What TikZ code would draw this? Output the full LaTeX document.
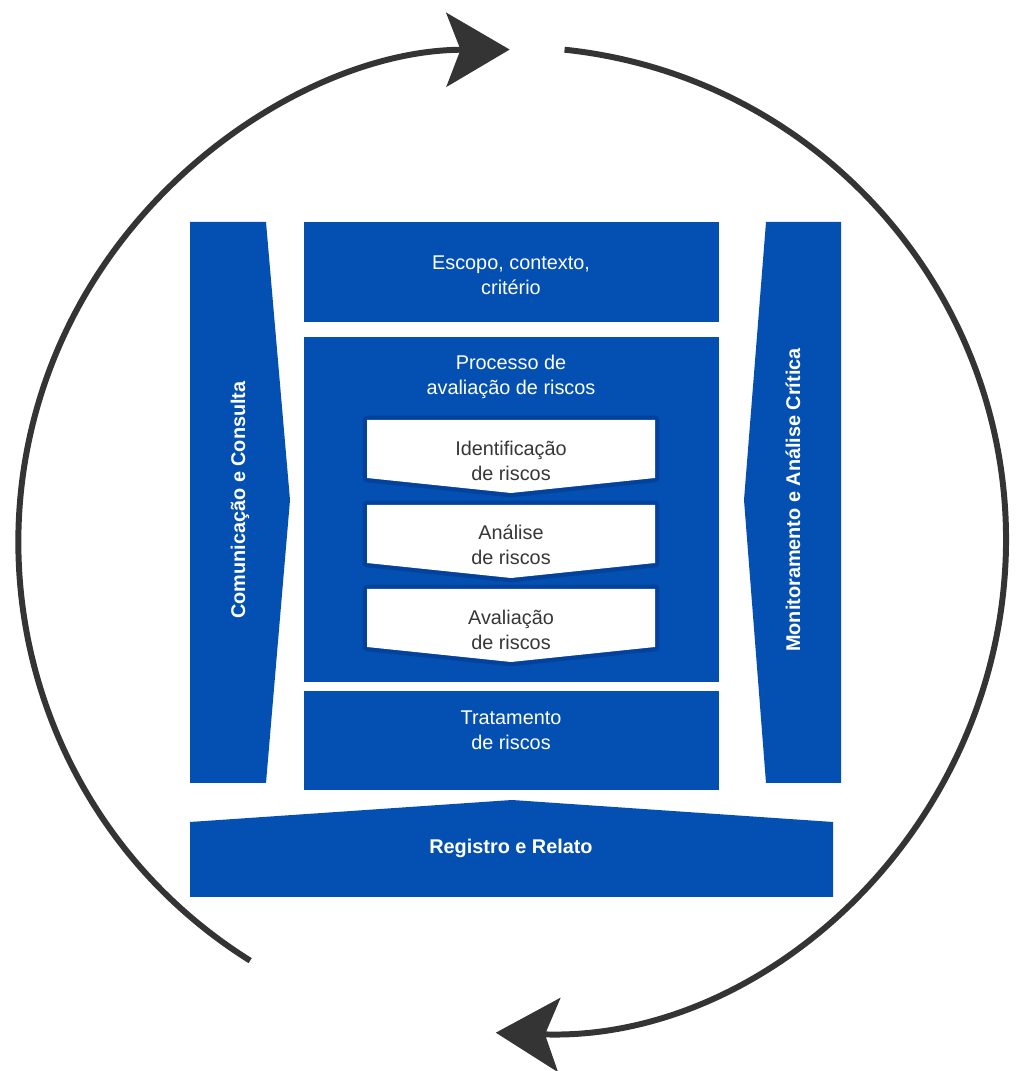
\documentclass[tikz,border=0pt]{standalone}
\usepackage{fontspec}
\setmainfont{Liberation Sans}
\usetikzlibrary{arrows.meta}
\definecolor{isoblue}{RGB}{4,80,178}
\definecolor{deepblue}{RGB}{0,40,115}
\definecolor{arcgray}{RGB}{52,52,52}
\definecolor{inktext}{RGB}{55,55,55}
\begin{document}
\begin{tikzpicture}[x=0.02cm,y=0.02cm,
  panel/.style={fill=isoblue},
  stepshape/.style={fill=white},
  stephalo/.style={draw=deepblue, line width=5pt, opacity=0.35, line join=round},
  paneltext/.style={text=white, align=center, inner sep=0pt,
    font=\fontsize{11.3pt}{14pt}\selectfont},
  sidetext/.style={text=white, inner sep=0pt, rotate=90,
    font=\bfseries\fontsize{11.3pt}{14pt}\selectfont},
  steptext/.style={text=inktext, align=center, inner sep=0pt,
    font=\fontsize{11.3pt}{14pt}\selectfont},
  cyclearc/.style={draw=arcgray, line width=3.4pt,
    -{Stealth[length=36pt,width=42pt,inset=8pt]}}]
\useasboundingbox (0,0) rectangle (1019,1071);

% centre of the surrounding cycle
\coordinate (c) at (513,531);

% side bars pointing inwards
\fill[panel] (190,849) -- (266,849) -- (290,571) -- (266,288) -- (190,288) -- cycle;
\fill[panel] (766,849) -- (841,849) -- (841,288) -- (766,288) -- (744,571) -- cycle;

% central column
\fill[panel] (304,749) rectangle (719,849);
\fill[panel] (304,389) rectangle (719,734);
\fill[panel] (304,281) rectangle (719,380);

% bottom band with a raised middle
\fill[panel] (190,174) -- (833,174) -- (833,249) -- (512,271) -- (190,249) -- cycle;

% the three assessment steps
\foreach \t/\s/\p in {651/593/578, 566/508/493, 482/424/409}{
  \draw[stephalo] (367,\t) -- (655,\t) -- (655,\s) -- (511,\p) -- (367,\s) -- cycle;
  \fill[stepshape] (367,\t) -- (655,\t) -- (655,\s) -- (511,\p) -- (367,\s) -- cycle;
}

% labels
\node[sidetext] (comm) at (240,571) {Comunicação e Consulta};
\node[sidetext] (monit) at (793,571) {Monitoramento e Análise Crítica};
\node[paneltext] (scope) at (511,796) {Escopo, contexto,\\critério};
\node[paneltext] (proc) at (511,694) {Processo de\\avaliação de riscos};
\node[steptext] (ident) at (511,610) {Identificação\\de riscos};
\node[steptext] (anal) at (511,526) {Análise\\de riscos};
\node[steptext] (aval) at (511,441) {Avaliação\\de riscos};
\node[paneltext] (treat) at (511,341) {Tratamento\\de riscos};
\node[paneltext, font=\bfseries\fontsize{11.3pt}{14pt}\selectfont] (rec) at (511,223) {Registro e Relato};

% surrounding cycle arrows
\draw[cyclearc] ([shift={(238:496)}]c) arc[start angle=238, end angle=90.2, radius=493];
\draw[cyclearc] ([shift={(84:493)}]c) arc[start angle=84, end angle=-92, radius=493];
\end{tikzpicture}
\end{document}
